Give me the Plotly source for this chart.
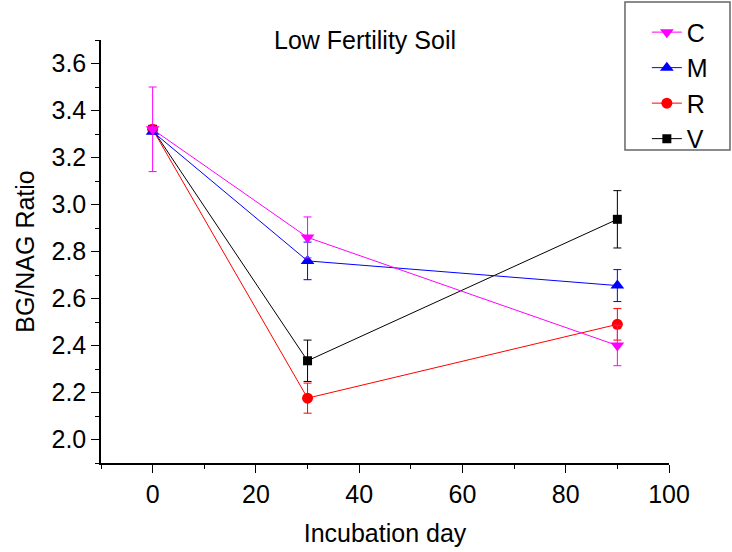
import plotly.graph_objects as go

days = [0, 30, 90]
series_names = ["V", "R", "M", "C"]
values = {
    "C": [3.32, 2.86, 2.40],
    "M": [3.31, 2.76, 2.655],
    "R": [3.32, 2.176, 2.49],
    "V": [3.32, 2.335, 2.937],
}
errors = {
    "C": [0.18, 0.087, 0.086],
    "M": [0.0, 0.08, 0.068],
    "R": [0.0, 0.064, 0.067],
    "V": [0.0, 0.088, 0.122],
}
colors = {"C": "#FF00FF", "M": "#0000FF", "R": "#FF0000", "V": "#000000"}
symbols = {"C": "triangle-down", "M": "triangle-up", "R": "circle", "V": "square"}
sizes = {"C": 12, "M": 12, "R": 11, "V": 9}

FONT = "Arial, Liberation Sans, sans-serif"

fig = go.Figure()
for name in series_names:
    fig.add_trace(go.Scatter(
        x=days, y=values[name], name=name, mode="lines+markers",
        line=dict(color=colors[name], width=1),
        marker=dict(symbol=symbols[name], size=sizes[name], color=colors[name],
                    line=dict(width=0)),
        error_y=dict(type="data", array=errors[name], visible=True,
                     color=colors[name], thickness=1, width=4),
    ))

axis_common = dict(
    showline=True, linecolor="black", linewidth=1.5, mirror=False,
    showgrid=False, zeroline=False, ticks="outside", ticklen=8, tickwidth=1.2,
    tickcolor="black", tickfont=dict(family=FONT, size=25, color="black"),
)

fig.update_layout(
    width=732, height=552,
    margin=dict(l=101, r=63, t=40, b=89, autoexpand=False),
    paper_bgcolor="white", plot_bgcolor="white",
    font=dict(family=FONT, color="black"),
    showlegend=True,
    legend=dict(
        x=0.961, y=0.983, xref="paper", yref="container", xanchor="left", yanchor="top",
        traceorder="reversed", borderwidth=0,
        bgcolor="rgba(0,0,0,0)", font=dict(family=FONT, size=25, color="black"),
        itemwidth=30, tracegroupgap=0,
    ),
    shapes=[dict(
        type="rect", xref="paper", yref="paper",
        x0=0.9225, x1=1.1074, y0=0.74, y1=1.0898,
        line=dict(color="#666666", width=1.5), fillcolor="rgba(0,0,0,0)", layer="above",
    )],
    annotations=[dict(
        text="Low Fertility Soil", x=0.465, y=1.0, xref="paper", yref="paper",
        xanchor="center", yanchor="middle", showarrow=False, yshift=0,
        font=dict(family=FONT, size=25, color="black"),
    )],
)

fig.update_xaxes(
    range=[-10, 100], tickmode="array", tickvals=[0, 20, 40, 60, 80, 100],
    minor=dict(ticks="outside", tickvals=[-10, 10, 30, 50, 70, 90], ticklen=4,
               tickcolor="black", tickwidth=1.2),
    title=dict(text="Incubation day", font=dict(family=FONT, size=25, color="black"), standoff=18),
    **axis_common,
)
fig.update_yaxes(
    range=[1.9, 3.7], tickmode="array", tickvals=[2.0, 2.2, 2.4, 2.6, 2.8, 3.0, 3.2, 3.4, 3.6],
    ticktext=["2.0", "2.2", "2.4", "2.6", "2.8", "3.0", "3.2", "3.4", "3.6"],
    minor=dict(ticks="outside", tickvals=[1.9, 2.1, 2.3, 2.5, 2.7, 2.9, 3.1, 3.3, 3.5, 3.7],
               ticklen=4, tickcolor="black", tickwidth=1.2),
    title=dict(text="BG/NAG Ratio", font=dict(family=FONT, size=25, color="black"), standoff=10),
    **axis_common,
)

fig.write_html("out.html")
